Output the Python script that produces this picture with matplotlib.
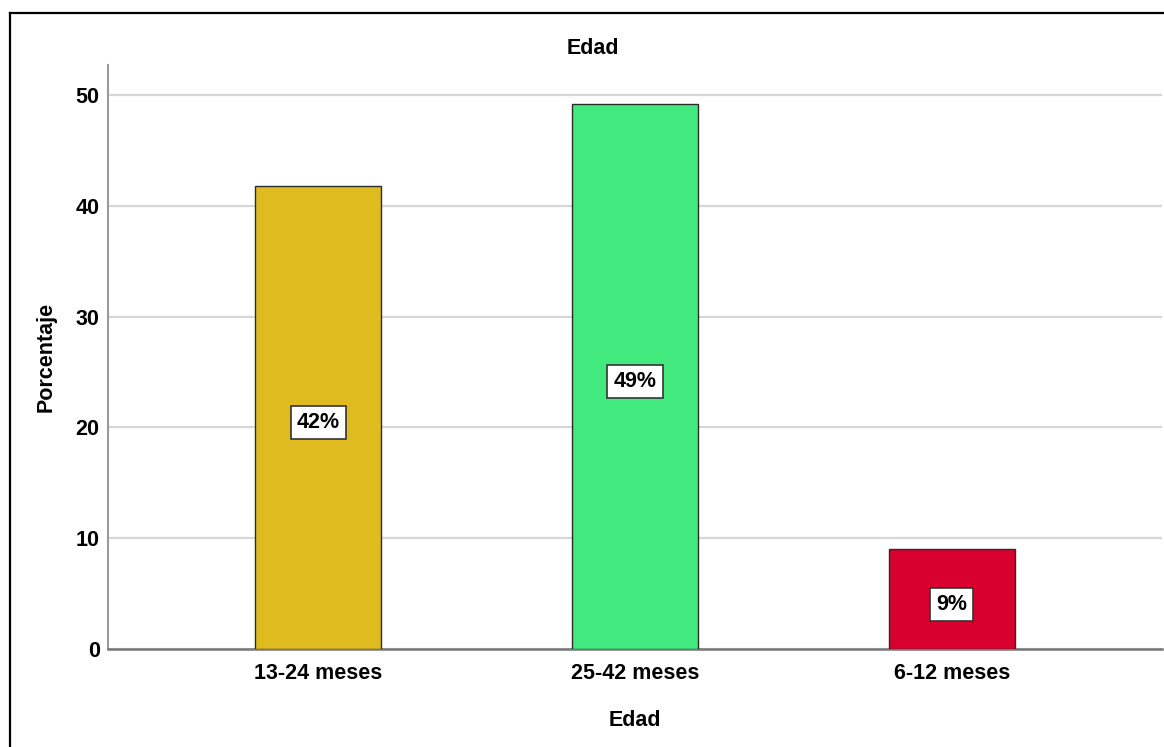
import matplotlib.pyplot as plt
from matplotlib.lines import Line2D

# Edad distribution (percent of children per age group)
categorias = ["13-24 meses", "25-42 meses", "6-12 meses"]
porcentajes = [41.8, 49.2, 9.0]
colores = ["#E0BB1F", "#41E97E", "#D7002F"]

plt.rcParams['font.family'] = ['Liberation Sans', 'DejaVu Sans']
plt.rcParams['font.weight'] = 'bold'
FS = 15.5

W, H = 1164, 747
fig = plt.figure(figsize=(W / 100, H / 100), dpi=100)
ax = fig.add_axes([108 / W, 1 - 649 / H, (1162 - 108) / W, (649 - 65) / H])

x = list(range(len(categorias)))
bars = ax.bar(x, porcentajes, width=0.4, color=colores,
              edgecolor="#2b2b2b", linewidth=1.0, zorder=3)

# value boxes in the middle of each bar
for xi, v in zip(x, porcentajes):
    ax.annotate(f"{v:.0f}%", (xi, v / 2), xytext=(0, -4), textcoords="offset points",
                ha="center", va="center", fontsize=FS, fontweight="bold",
                color="black", zorder=4,
                bbox=dict(boxstyle="square,pad=0.28", fc="white", ec="#333333", lw=1.2))

ax.set_xlim(-0.663, 2.663)
ax.set_ylim(0, 52.7)
ax.set_yticks([0, 10, 20, 30, 40, 50])
ax.set_xticks(x)
ax.set_xticklabels(categorias)
ax.tick_params(axis="both", length=0, labelsize=FS)
ax.tick_params(axis="y", pad=6)
ax.tick_params(axis="x", pad=10)

ax.yaxis.grid(True, color="#D6D6D6", linewidth=1.6)
ax.set_axisbelow(True)

for s in ["top", "right"]:
    ax.spines[s].set_visible(False)
ax.spines["left"].set_color("#9a9a9a")
ax.spines["left"].set_linewidth(1.5)
ax.spines["bottom"].set_color("#777777")
ax.spines["bottom"].set_linewidth(1.8)

ax.set_ylabel("Porcentaje", fontsize=FS, fontweight="bold", labelpad=14)
ax.set_xlabel("Edad", fontsize=FS, fontweight="bold", labelpad=19)

fig.text(593 / W, 1 - 48 / H, "Edad", ha="center", va="center",
         fontsize=FS, fontweight="bold")

# outer frame (top and left edges)
fig.add_artist(Line2D([10 / W, 1.0], [1 - 13 / H, 1 - 13 / H], color="black", lw=1.6))
fig.add_artist(Line2D([10 / W, 10 / W], [0.0, 1 - 13 / H], color="black", lw=1.6))

fig.savefig("out.png", dpi=100)
